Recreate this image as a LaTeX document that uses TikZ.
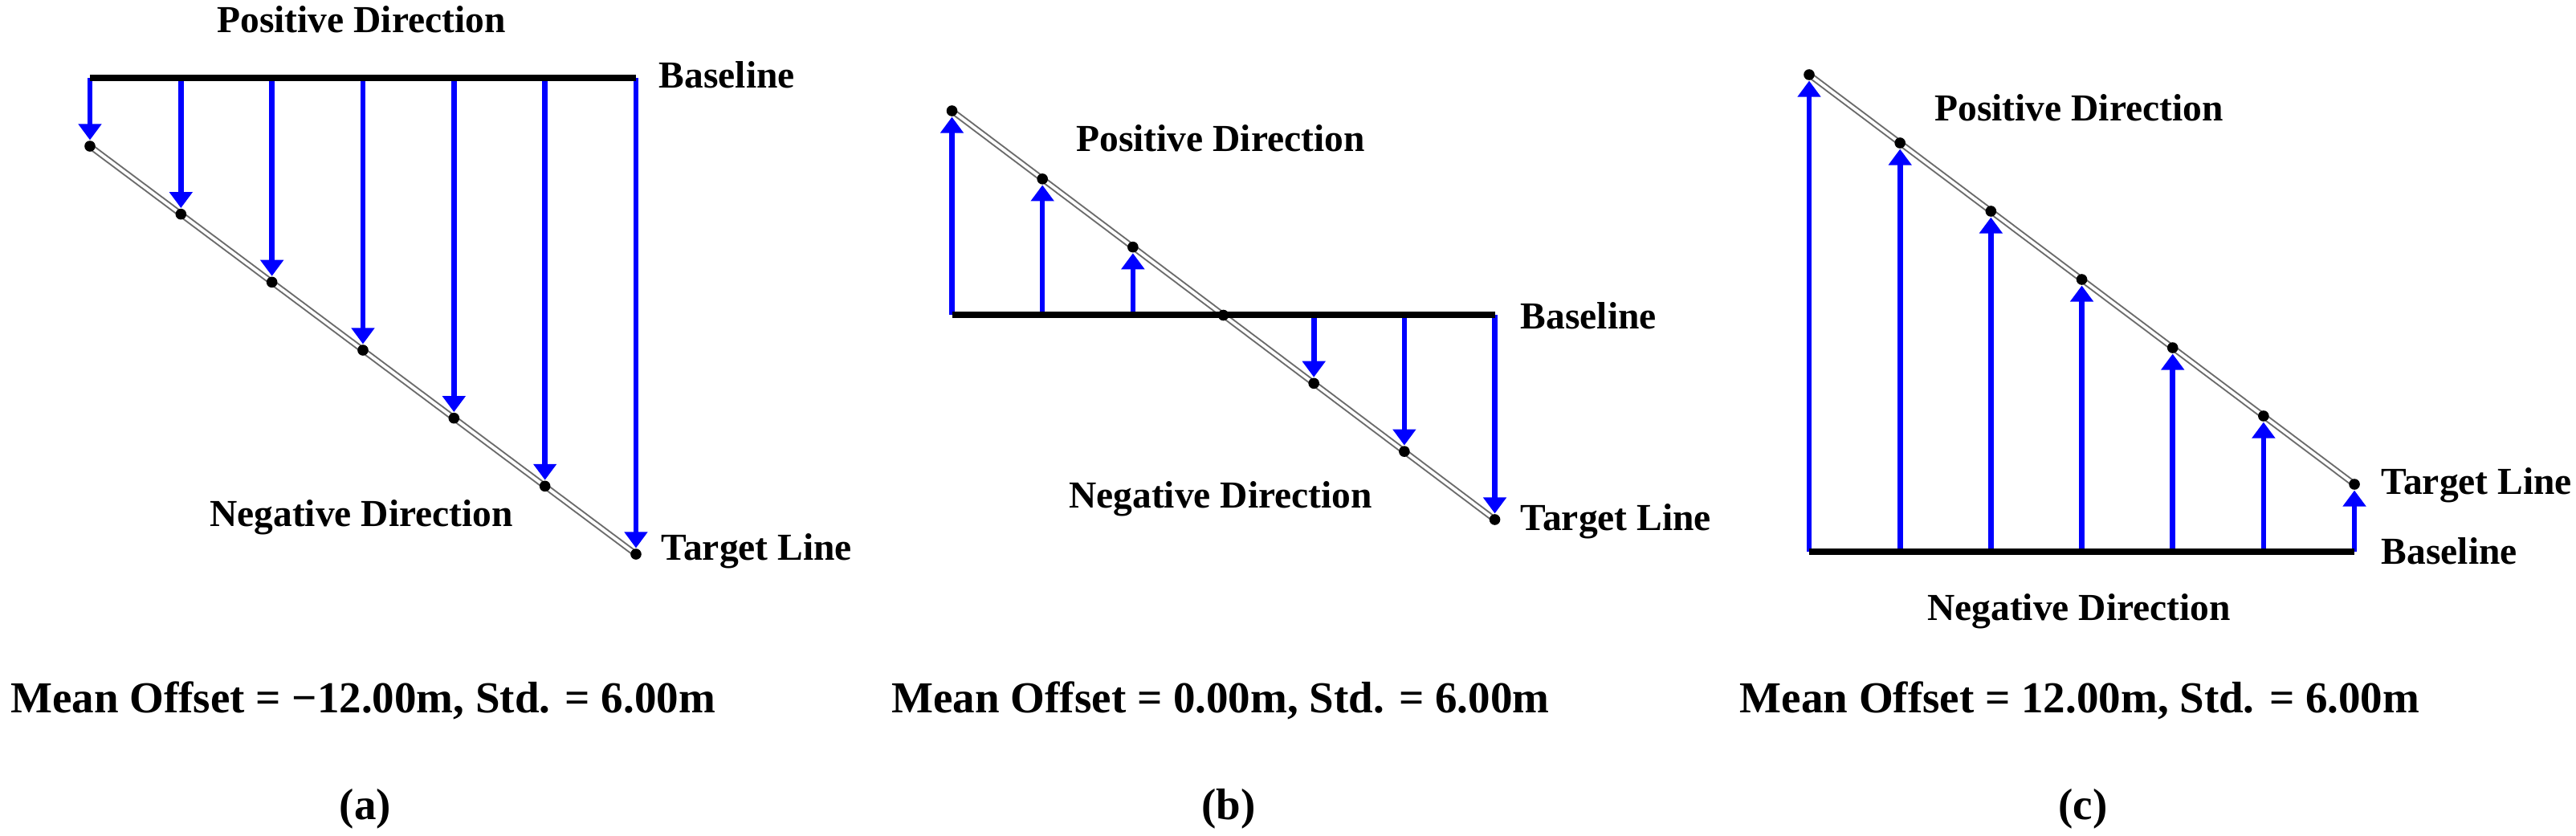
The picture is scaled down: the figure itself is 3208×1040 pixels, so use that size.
\documentclass[tikz,border=0pt]{standalone}
\usepackage{fontspec}
\setmainfont{Liberation Serif}
\usetikzlibrary{arrows.meta}
\begin{document}
\begin{tikzpicture}[x=0.25pt,y=-0.25pt,
  baseln/.style={line width=1.9pt,black},
  tgt/.style={draw=gray!85!black,double=white,line width=0.5pt,double distance=0.95pt},
  arr/.style={blue,line width=1.65pt,-{Triangle[width=7pt,length=5pt]}},
  dot/.style={circle,fill=black,inner sep=0pt,minimum size=3.4pt},
  lbl/.style={font=\bfseries\fontsize{11.875}{14}\selectfont,inner sep=0pt},
  captxt/.style={font=\bfseries\fontsize{13.75}{16}\selectfont,inner sep=0pt}]
\useasboundingbox (0,0) rectangle (3208,1040);
% ---------- panel (a)
\foreach \i in {0,...,6}{
  \pgfmathsetmacro\xx{112+113.33*\i}
  \pgfmathsetmacro\yy{182+84.67*\i}
  \coordinate (ta\i) at (\xx,\yy);
  \coordinate (ba\i) at (\xx,97);
}
\draw[tgt] (ta0) -- (ta6);
\foreach \i in {0,...,6}{
  \node[dot] (da\i) at (ta\i) {};
  \draw[arr] (ba\i) -- (da\i);
}
\draw[baseln] (ba0) -- (ba6);
\node[lbl,anchor=base] (pa) at (450,40) {Positive Direction};
\node[lbl,anchor=base west] (bla) at (820,109) {Baseline};
\node[lbl,anchor=base] (na) at (450,655) {Negative Direction};
\node[lbl,anchor=base west] (tla) at (823,697) {Target Line};
\node[captxt,anchor=base] (ma) at (452,887) {Mean Offset = −12.00m, Std. = 6.00m};
\node[captxt,anchor=base] (la) at (455,1020) {(a)};
% ---------- panel (b)
\foreach \i in {0,...,6}{
  \pgfmathsetmacro\xx{1185.5+112.67*\i}
  \pgfmathsetmacro\yy{138+84.83*\i}
  \coordinate (tb\i) at (\xx,\yy);
  \coordinate (bb\i) at (\xx,392);
}
\draw[tgt] (tb0) -- (tb6);
\foreach \i in {0,...,6}{
  \node[dot] (db\i) at (tb\i) {};
  \ifnum\i=3\else\draw[arr] (bb\i) -- (db\i);\fi
}
\draw[baseln] (bb0) -- (bb6);
\node[lbl,anchor=base] (pb) at (1520,188) {Positive Direction};
\node[lbl,anchor=base west] (blb) at (1893,409) {Baseline};
\node[lbl,anchor=base] (nb) at (1520,632) {Negative Direction};
\node[lbl,anchor=base west] (tlb) at (1893,660) {Target Line};
\node[captxt,anchor=base] (mb) at (1520,887) {Mean Offset = 0.00m, Std. = 6.00m};
\node[captxt,anchor=base] (lb) at (1530,1020) {(b)};
% ---------- panel (c)
\foreach \i in {0,...,6}{
  \pgfmathsetmacro\xx{2253+113.17*\i}
  \pgfmathsetmacro\yy{93+85*\i}
  \coordinate (tc\i) at (\xx,\yy);
  \coordinate (bc\i) at (\xx,687);
}
\draw[tgt] (tc0) -- (tc6);
\foreach \i in {0,...,6}{
  \node[dot] (dc\i) at (tc\i) {};
  \draw[arr] (bc\i) -- (dc\i);
}
\draw[baseln] (bc0) -- (bc6);
\node[lbl,anchor=base] (pc) at (2589,150) {Positive Direction};
\node[lbl,anchor=base west] (tlc) at (2965,615) {Target Line};
\node[lbl,anchor=base west] (blc) at (2965,702) {Baseline};
\node[lbl,anchor=base] (nc) at (2589,772) {Negative Direction};
\node[captxt,anchor=base] (mc) at (2590,887) {Mean Offset = 12.00m, Std. = 6.00m};
\node[captxt,anchor=base] (lc) at (2594,1020) {(c)};
\end{tikzpicture}
\end{document}
